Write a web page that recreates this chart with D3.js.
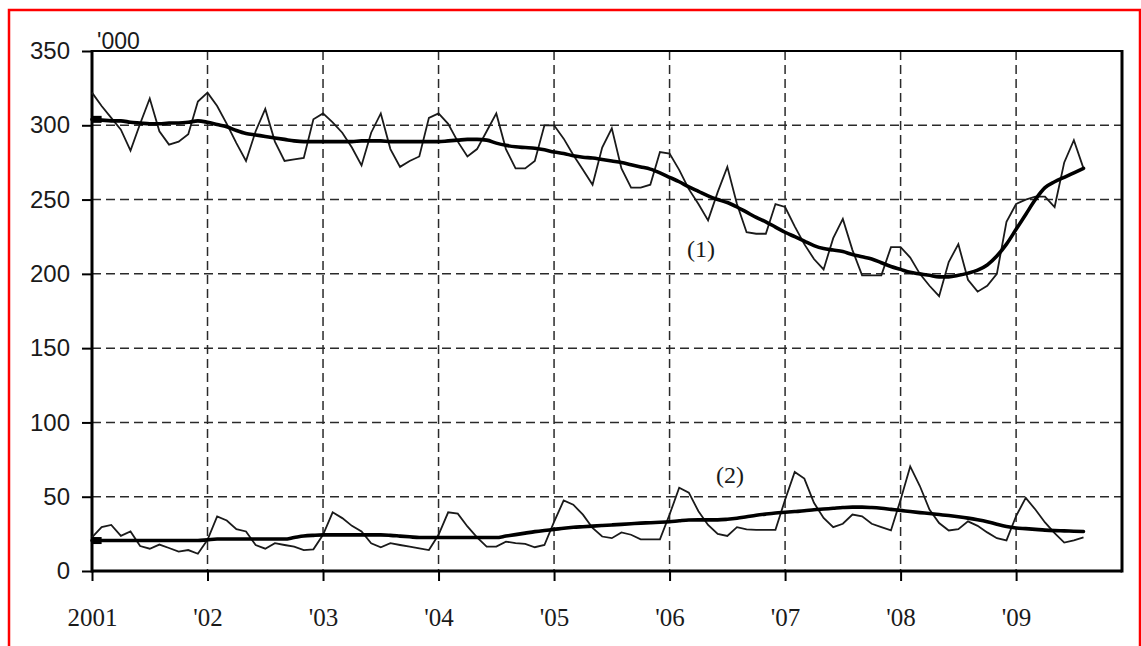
<!DOCTYPE html>
<html>
<head>
<meta charset="utf-8">
<script src="https://cdn.jsdelivr.net/npm/d3@7"></script>
<style>
  html, body { margin: 0; padding: 0; background: #fff; }
  svg { display: block; }
</style>
</head>
<body>
<svg id="chart" width="1141" height="646"></svg>
<script>
// Monthly data, Jan 2001 .. Aug 2009 (thousands)
const series1 = [322,313,305,297,283,301,318,296,287,289,294,316,
  322,313,301,288,276,296,311,289,276,277,278,304,
  308,302,295,285,273,295,308,284,272,276,279,305,
  308,301,289,279,284,296,308,284,271,271,276,300,
  300,291,280,270,260,285,298,271,258,258,260,282,
  281,270,257,247,236,255,272,247,228,227,227,247,
  245,232,220,210,203,224,237,216,199,199,199,218,
  218,211,200,192,185,208,220,196,188,192,200,235,
  247,250,252,252,245,275,290,271];
const trend1 = [304,303.5,303,303,302,301.5,301,301,301.5,301.5,302,303,
  302,300.5,299,296.5,294.5,293.5,292.5,291.5,290.5,289.5,289,289,
  289,289,289,289,289.5,289.5,289.5,289,289,289,289,289,
  289,289.5,290,290.5,290.5,290,288,286.5,285.5,285,284.5,283.5,
  282,281,279.5,278.5,278,277,276,275,273.5,272,270.5,268,
  265,262,258.5,255.5,252.5,250,248,245,241.5,238,235,231.5,
  228,225,222,219,217,216,215,213,211.5,210,207.5,205,
  203,201,200,199,198,198,199,200.5,202.5,206,212,220,
  230,240,250,258,262,265,268,271];
const series2 = [22.7,29.5,31,23.6,26.6,16.8,15,17.8,15.5,13,14.1,11.6,
  21,36.8,34,28.2,26.6,17.5,15,18.7,17.5,16.4,14,14.6,
  24.4,39.5,35.6,30.4,26.6,18.7,16,18.7,17.5,16.4,15.2,14.1,
  24.4,39.5,38.6,30,22.7,16.4,16.4,19.8,18.7,18.2,16,17.5,
  33,47.5,44.6,37.9,29,23.2,22.1,26,24.4,21.3,21.3,21.3,
  38,56,52.7,40.2,31,25,23.6,29.5,28,27.7,27.7,27.7,
  48,66.7,62.2,45.9,35.7,29.5,31.8,38,36.8,31.8,29.5,27.3,
  48,70.4,57.2,41.4,32.3,27.3,28.2,33.4,30.4,26,22.1,20.6,
  37,49.2,41.4,32.7,25.5,19.1,20.6,22.7];
const trend2 = [20.5,20.5,20.5,20.5,20.5,20.5,20.5,20.5,20.5,20.5,20.5,20.5,
  21,21.5,21.5,21.5,21.5,21.5,21.5,21.5,21.5,22.5,23.5,24,
  24.3,24.3,24.3,24.3,24.3,24.3,24.3,24,23.5,23,22.5,22.5,
  22.5,22.5,22.5,22.5,22.5,22.5,22.5,23.5,24.5,25.5,26.5,27.3,
  28,28.8,29.4,29.8,30.2,30.6,31,31.4,31.8,32.2,32.5,32.8,
  33.2,33.8,34.3,34.4,34.4,34.4,34.8,35.5,36.5,37.5,38.3,39,
  39.5,40,40.5,41.2,41.7,42.2,42.7,43,43,42.7,42.2,41.5,
  40.8,40,39.3,38.7,38,37.3,36.5,35.6,34.5,33.2,31.5,30,
  29,28.5,28,27.5,27.2,27,26.8,26.6];
const yTicks = [0,50,100,150,200,250,300,350];
const xTickMonths = [0,12,24,36,48,60,72,84,96];
const xTickLabels = ["2001","'02","'03","'04","'05","'06","'07","'08","'09"];
const unitLabel = "'000";
const seriesLabels = ["(1)","(2)"];

const svg = d3.select("#chart");

// red outer frame
svg.append("rect").attr("x",9).attr("y",10).attr("width",1131).attr("height",660)
  .attr("fill","none").attr("stroke","#ff0000").attr("stroke-width",2.5);

const L = 92, R = 1122, T = 51, B = 571;
const x = d3.scaleLinear().domain([0,107]).range([L,R]);
const y = d3.scaleLinear().domain([0,350]).range([B,T]);

// gridlines
const grid = svg.append("g").attr("stroke","#2a2a2a").attr("stroke-width",1.5)
  .attr("stroke-dasharray","9,5").attr("fill","none");
grid.selectAll("line.h").data(yTicks.filter(d => d>0 && d<350)).join("line")
  .attr("x1",L).attr("x2",R).attr("y1",d=>y(d)).attr("y2",d=>y(d));
grid.selectAll("line.v").data(xTickMonths.filter(d => d>0)).join("line")
  .attr("y1",T).attr("y2",B).attr("x1",d=>x(d)).attr("x2",d=>x(d));

// axes via d3
const yAxis = d3.axisLeft(y).tickValues(yTicks).tickSize(10).tickPadding(12);
const gy = svg.append("g").attr("transform",`translate(${L},0)`).call(yAxis);
gy.select(".domain").remove();
gy.selectAll(".tick line").attr("stroke","#000").attr("stroke-width",2);
gy.selectAll(".tick text").attr("font-family","'Liberation Sans', Arial, sans-serif")
  .attr("font-size",24).attr("fill","#1a1a1a");

const xAxis = d3.axisBottom(x).tickValues(xTickMonths)
  .tickFormat((d,i)=>xTickLabels[i]).tickSize(10).tickPadding(27);
const gx = svg.append("g").attr("transform",`translate(0,${B})`).call(xAxis);
gx.select(".domain").remove();
gx.selectAll(".tick line").attr("stroke","#000").attr("stroke-width",2);
gx.selectAll(".tick text").attr("font-family","'Liberation Serif', 'Times New Roman', serif")
  .attr("font-size",25).attr("fill","#1a1a1a");

// frame
svg.append("line").attr("x1",L).attr("x2",R).attr("y1",T).attr("y2",T).attr("stroke","#000").attr("stroke-width",2.2);
svg.append("line").attr("x1",L).attr("x2",R).attr("y1",B).attr("y2",B).attr("stroke","#000").attr("stroke-width",3);
svg.append("line").attr("x1",L).attr("x2",L).attr("y1",T-1).attr("y2",B+1.5).attr("stroke","#000").attr("stroke-width",3);
svg.append("line").attr("x1",R).attr("x2",R).attr("y1",T-1).attr("y2",B+1.5).attr("stroke","#000").attr("stroke-width",3);

// lines
const line = d3.line().x((d,i)=>x(i)).y(d=>y(d));
const smooth = d3.line().x((d,i)=>x(i)).y(d=>y(d)).curve(d3.curveMonotoneX);
[series1, series2].forEach(s => {
  svg.append("path").datum(s).attr("d",line).attr("fill","none")
    .attr("stroke","#1a1a1a").attr("stroke-width",1.8).attr("stroke-linejoin","miter");
});
[trend1, trend2].forEach(s => {
  svg.append("path").datum(s).attr("d",smooth).attr("fill","none")
    .attr("stroke","#000").attr("stroke-width",3.6).attr("stroke-linecap","round");
  // start marker
  svg.append("rect").attr("x",x(0)).attr("y",y(s[0])-3.5).attr("width",x(1)-x(0)).attr("height",7).attr("fill","#000");
});

// texts
svg.append("text").attr("x",97).attr("y",49).text(unitLabel)
  .attr("font-family","'Liberation Sans', Arial, sans-serif").attr("font-size",23).attr("fill","#1a1a1a");
svg.append("text").attr("x",701).attr("y",257).attr("text-anchor","middle").text(seriesLabels[0])
  .attr("font-family","'Liberation Serif', 'Times New Roman', serif").attr("font-size",24).attr("fill","#1a1a1a");
svg.append("text").attr("x",730).attr("y",483).attr("text-anchor","middle").text(seriesLabels[1])
  .attr("font-family","'Liberation Serif', 'Times New Roman', serif").attr("font-size",24).attr("fill","#1a1a1a");
</script>
</body>
</html>
